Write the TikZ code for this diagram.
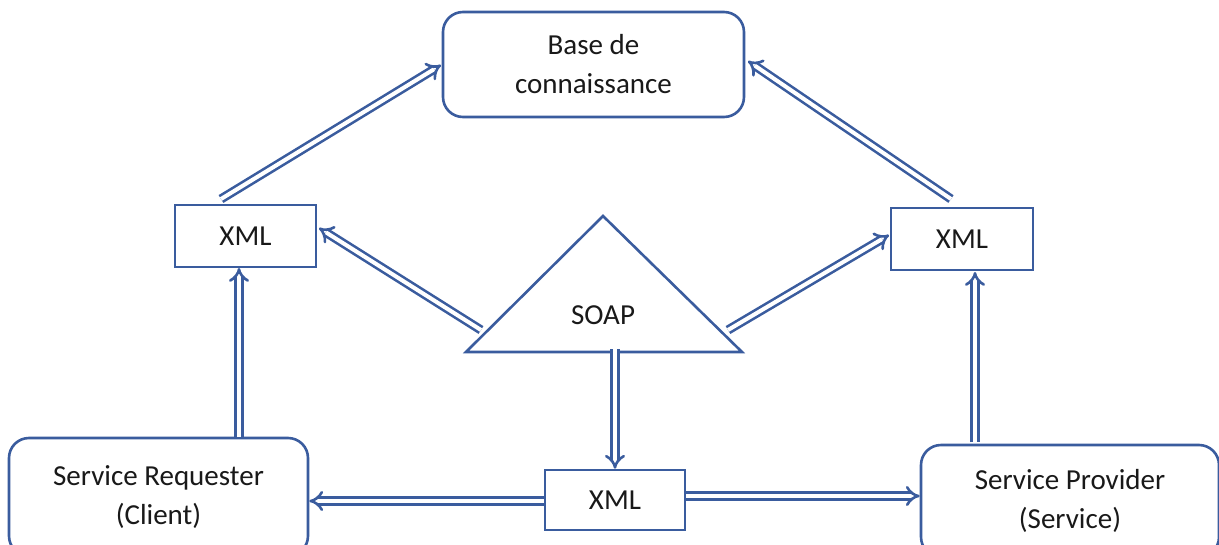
\documentclass[tikz,border=0pt]{standalone}
\usepackage{fontspec}
\setmainfont{Carlito}
\usetikzlibrary{arrows.meta,calc}
\definecolor{edge}{RGB}{58,92,158}
\definecolor{ink}{RGB}{25,25,25}
\tikzset{
  roundbox/.style={draw=edge, line width=2.6pt, rounded corners=20pt, fill=white, text=ink, align=center, inner sep=0pt},
  sqbox/.style={draw=edge, line width=2.6pt, fill=white, text=ink, align=center, inner sep=0pt},
  flow/.style={draw=edge, line width=2.6pt, double=white, double distance=4pt, -{Implies[scale=1.4]}},
  lbl/.style={text=ink, font=\fontsize{29}{39}\selectfont}
}
\begin{document}
\begin{tikzpicture}[x=1pt,y=-1pt]
\useasboundingbox (0,0) rectangle (1219,544);
% boxes
\node[roundbox, lbl, minimum width=301pt, minimum height=105pt] (kb) at (593.5,64.5) {Base de\\connaissance};
\node[sqbox, lbl, minimum width=141pt, minimum height=62pt] (xl) at (245.5,236) {XML};
\node[sqbox, lbl, minimum width=142pt, minimum height=62pt] (xr) at (962,239) {XML};
\node[sqbox, lbl, minimum width=140pt, minimum height=60pt] (xb) at (615,500) {XML};
\node[roundbox, lbl, minimum width=299pt, minimum height=118pt] (req) at (158.5,497) {Service Requester\\(Client)};
\node[roundbox, lbl, minimum width=298pt, minimum height=112pt] (prov) at (1070,501) {Service Provider\\(Service)};
% SOAP triangle
\coordinate (tA) at (603,216);
\coordinate (tL) at (466,352);
\coordinate (tR) at (742,352);
\draw[edge, line width=2.6pt, line join=miter] (tA) -- (tL) -- (tR) -- cycle;
\node[lbl] (soap) at (603,315) {SOAP};
% connector ends
\coordinate (xlTop) at (221,199);
\coordinate (kbL) at (441,65);
\coordinate (xrTop) at (951,199);
\coordinate (kbR) at (748,61);
\coordinate (sL) at (481,330);
\coordinate (xlR) at (319,228);
\coordinate (sR) at (728,330);
\coordinate (xrL) at (889,235);
\coordinate (sB) at (615,349);
\coordinate (xlB) at (239,268);
\coordinate (reqT) at (239,437);
\coordinate (xrB) at (975,272);
\coordinate (provT) at (975,442);
% connectors
\draw[flow] (xlTop) -- (kbL);
\draw[flow] (xrTop) -- (kbR);
\draw[flow] (sL) -- (xlR);
\draw[flow] (sR) -- (xrL);
\draw[flow] (sB) -- (xb.north);
\draw[flow] (reqT) -- (xlB);
\draw[flow] (provT) -- (xrB);
\draw[flow] (xb.west |- 0,501) -- (req.east |- 0,501);
\draw[flow] (xb.east |- 0,496) -- (prov.west |- 0,496);
\end{tikzpicture}
\end{document}
